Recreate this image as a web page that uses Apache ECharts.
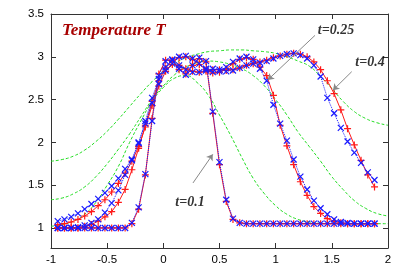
<!DOCTYPE html>
<html><head><meta charset="utf-8">
<script src="https://cdn.jsdelivr.net/npm/echarts@6/dist/echarts.min.js"></script>
<style>html,body{margin:0;padding:0;background:#fff}#c{width:409px;height:273px}</style>
</head><body><div id="c"></div>
<script>
const X_GRID = [-0.94,-0.88,-0.82,-0.76,-0.70,-0.64,-0.58,-0.52,-0.46,-0.40,-0.34,-0.28,-0.22,-0.16,-0.10,-0.04,0.02,0.08,0.14,0.20,0.26,0.32,0.38,0.44,0.50,0.56,0.62,0.68,0.74,0.80,0.86,0.92,0.98,1.04,1.10,1.16,1.22,1.28,1.34,1.40,1.46,1.52,1.58,1.64,1.70,1.76,1.82,1.88];
const T01_BLUE = [1,1,1,1,1,1,1,1,1,1,1,1.06,1.24,1.63,2.25,2.78,2.95,2.97,2.86,2.79,2.9,2.99,2.95,2.36,1.77,1.33,1.11,1.06,1.05,1.05,1.05,1.05,1.05,1.05,1.05,1.05,1.05,1.05,1.05,1.05,1.05,1.05,1.05,1.05,1.05,1.05,1.05,1.05];
const T01_RED = [1,1,1,1,1,1,1,1,1,1,1,1.05,1.22,1.62,2.28,2.8,2.96,2.96,2.85,2.8,2.9,2.98,2.94,2.34,1.74,1.31,1.1,1.06,1.05,1.05,1.05,1.05,1.05,1.05,1.05,1.05,1.05,1.05,1.05,1.05,1.05,1.05,1.05,1.05,1.05,1.05,1.05,1.05];
const T025_BLUE = [1,1,1,1.01,1.03,1.06,1.10,1.18,1.29,1.44,1.62,1.79,1.99,2.25,2.52,2.74,2.88,2.96,3.0,3.01,2.98,2.92,2.86,2.82,2.83,2.88,2.94,2.98,3.0,2.97,2.86,2.72,2.44,2.22,2.02,1.8,1.6,1.45,1.32,1.23,1.16,1.1,1.07,1.06,1.05,1.05,1.05,1.05];
const T025_RED = [1,1,1,1,1.02,1.04,1.08,1.13,1.19,1.3,1.45,1.68,1.93,2.2,2.48,2.72,2.87,2.95,2.99,3.0,2.97,2.91,2.85,2.81,2.82,2.86,2.92,2.97,2.99,2.97,2.88,2.78,2.55,2.2,1.96,1.74,1.54,1.38,1.25,1.17,1.11,1.08,1.06,1.05,1.05,1.05,1.05,1.05];
const T04_BLUE = [1.08,1.10,1.13,1.17,1.22,1.28,1.34,1.41,1.49,1.58,1.69,1.80,2.0,2.22,2.46,2.68,2.84,2.92,2.9,2.85,2.82,2.82,2.84,2.86,2.85,2.83,2.84,2.87,2.9,2.92,2.93,2.95,2.98,3.01,3.03,3.04,3.02,2.98,2.9,2.77,2.52,2.34,2.17,2.01,1.88,1.76,1.65,1.56];
const T04_RED = [1.04,1.05,1.07,1.1,1.14,1.19,1.26,1.33,1.42,1.52,1.64,1.78,1.95,2.18,2.43,2.66,2.83,2.91,2.9,2.86,2.83,2.82,2.83,2.85,2.85,2.84,2.85,2.87,2.9,2.92,2.94,2.96,2.99,3.01,3.03,3.04,3.03,3.0,2.94,2.85,2.72,2.57,2.38,2.16,1.97,1.79,1.62,1.48];
const GREEN_X = [-1,-0.9,-0.8,-0.7,-0.6,-0.5,-0.4,-0.3,-0.2,-0.1,0,0.1,0.2,0.3,0.4,0.5,0.6,0.7,0.8,0.9,1.0,1.1,1.2,1.3,1.4,1.5,1.6,1.7,1.8,1.9,2.0];
const GREEN_A = [1.78,1.8,1.84,1.91,2.01,2.13,2.27,2.42,2.57,2.71,2.83,2.92,2.99,3.03,3.06,3.07,3.08,3.08,3.07,3.06,3.04,3.0,2.95,2.89,2.77,2.63,2.48,2.36,2.28,2.23,2.2];
const GREEN_B = [1.33,1.35,1.4,1.48,1.6,1.75,1.92,2.1,2.3,2.5,2.66,2.79,2.88,2.93,2.95,2.94,2.91,2.86,2.78,2.66,2.5,2.32,2.12,1.95,1.78,1.6,1.45,1.32,1.23,1.17,1.14];
const GREEN_C = [1.02,1.04,1.08,1.16,1.3,1.5,1.72,2.0,2.25,2.48,2.64,2.75,2.78,2.7,2.55,2.32,2.08,1.82,1.58,1.4,1.26,1.16,1.1,1.07,1.055,1.05,1.05,1.05,1.05,1.05,1.05];
const Y_TICKS = [1,1.5,2,2.5,3,3.5];
const LABEL_TEXT = ['t=0.1','t=0.25','t=0.4'];
const LABEL_POS = [[0.237,1.30],[1.537,3.313],[1.84,2.93]];
const ARROWS = [[[0.264,1.526],[0.44,1.86]],[[1.35,3.25],[0.93,2.73]],[[1.677,2.826],[1.51,2.61]]];

const pair = (xa, ya) => xa.map((x,i)=>[x, ya[i]]);
const RED='#ff1a1a', BLUE='#1a1aff', GREEN='#22dd22';
const plusSym='path://M5,0L5,10M0,5L10,5';
const xSym='path://M0,0L10,10M10,0L0,10';
function greenS(ys){return {type:'line',data:pair(GREEN_X,ys),showSymbol:false,smooth:true,lineStyle:{color:GREEN,width:1,type:[3,2]},z:2,silent:true};}
function redS(ys){return {type:'line',data:pair(X_GRID,ys),symbol:plusSym,symbolSize:7,lineStyle:{color:RED,width:1},itemStyle:{color:RED,borderColor:RED,borderWidth:1.2},z:3};}
function blueS(ys){return {type:'line',data:pair(X_GRID,ys),symbol:xSym,symbolSize:6,lineStyle:{color:BLUE,width:1,type:'dotted'},itemStyle:{color:BLUE,borderColor:BLUE,borderWidth:1.2},z:4};}

const axisCommon = {axisLine:{show:true,onZero:false,lineStyle:{color:'#333',width:1}},splitLine:{show:false}};
const lblStyle = {color:'#000',fontSize:11.5,fontFamily:'Liberation Sans, Arial, sans-serif'};
const chart = echarts.init(document.getElementById('c'),null,{renderer:'canvas'});
chart.setOption({
  animation:false,
  backgroundColor:'#fff',
  title:{text:'Temperature T',left:57,top:17,textStyle:{fontFamily:'Liberation Serif, Times New Roman, serif',fontStyle:'italic',fontWeight:'bold',fontSize:17,color:'#a80000'}},
  grid:{left:51,right:21,top:14,bottom:25,containLabel:false,outerBoundsMode:'none'},
  xAxis:[
    Object.assign({type:'value',min:-1,max:2,interval:0.5,position:'bottom',axisTick:{inside:true,length:5,lineStyle:{color:'#333'}},axisLabel:Object.assign({margin:6},lblStyle)},axisCommon),
    Object.assign({type:'value',min:-1,max:2,interval:0.5,position:'top',axisTick:{inside:true,length:5,lineStyle:{color:'#333'}},axisLabel:{show:false}},axisCommon)
  ],
  yAxis:[
    Object.assign({type:'value',min:0.766,max:3.5,position:'left',axisTick:{inside:true,length:5,customValues:Y_TICKS,lineStyle:{color:'#333'}},axisLabel:Object.assign({margin:7,customValues:Y_TICKS},lblStyle)},axisCommon),
    Object.assign({type:'value',min:0.766,max:3.5,position:'right',axisTick:{inside:true,length:5,customValues:Y_TICKS,lineStyle:{color:'#333'}},axisLabel:{show:false}},axisCommon)
  ],
  series:[
    greenS(GREEN_A), greenS(GREEN_B), greenS(GREEN_C),
    redS(T01_RED), redS(T025_RED), redS(T04_RED),
    blueS(T01_BLUE), blueS(T025_BLUE), blueS(T04_BLUE),
    {type:'line',data:[],z:5,markLine:{silent:true,symbol:['none','arrow'],symbolSize:6,animation:false,label:{show:false},lineStyle:{color:'#888',width:1,type:'solid'},
      data:ARROWS.map(a=>[{coord:a[0],symbol:'none'},{coord:a[1],symbol:'arrow',itemStyle:{color:'#000'}}])}},
    {type:'scatter',data:LABEL_POS.map((p,i)=>({value:p,name:LABEL_TEXT[i]})),symbolSize:0.1,itemStyle:{color:'transparent'},z:6,
      label:{show:true,position:'inside',formatter:p=>p.name,color:'#000',fontSize:14,fontStyle:'italic',fontWeight:'bold',fontFamily:'Liberation Serif, Times New Roman, serif'}}
  ]
});
</script></body></html>
